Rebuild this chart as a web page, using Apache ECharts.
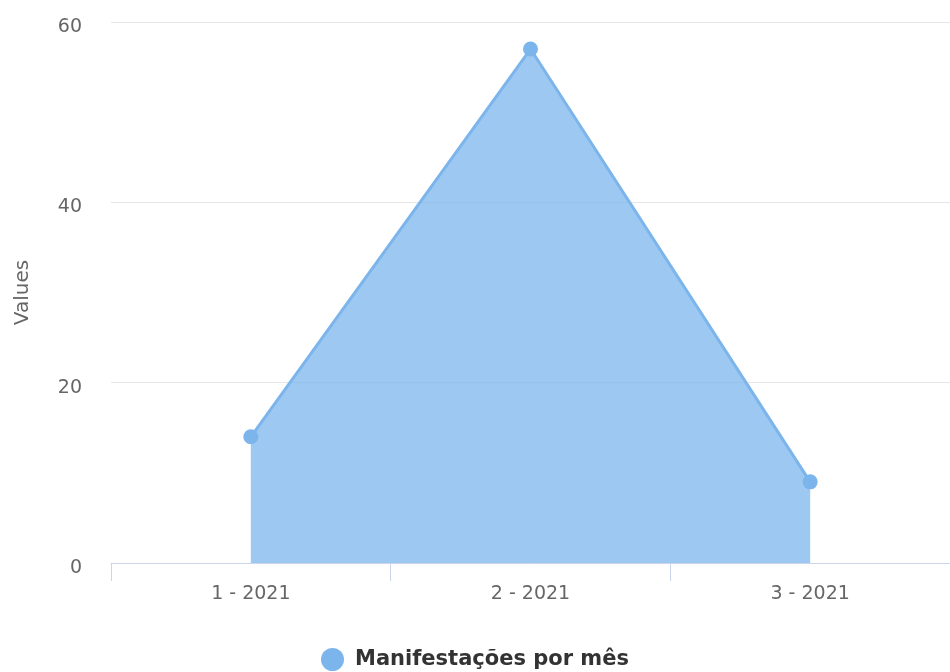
<!DOCTYPE html>
<html><head><meta charset="utf-8">
<script src="https://cdn.jsdelivr.net/npm/echarts@6/dist/echarts.min.js"></script>
<style>html,body{margin:0;padding:0;background:#fff}#c{width:950px;height:672px}</style>
</head><body><div id="c"></div>
<script>
const categories = ['1 - 2021', '2 - 2021', '3 - 2021'];
const seriesName = 'Manifestações por mês';
const values = [14, 57, 9];
const yTicks = [0, 20, 40, 60];

const chart = echarts.init(document.getElementById('c'), null, {renderer: 'canvas'});
chart.setOption({
  animation: false,
  grid: {left: 111, right: 0, top: 22, bottom: 109},
  legend: {
    top: 643, left: 'center', itemWidth: 23, itemHeight: 23, icon: 'circle', itemGap: 10,
    textStyle: {fontFamily: 'DejaVu Sans', fontWeight: 'bold', fontSize: 21, color: '#333', padding: [0, 0, 0, 6]},
    data: [seriesName]
  },
  xAxis: {
    type: 'category', data: categories, boundaryGap: true,
    axisLine: {lineStyle: {color: '#ccd6eb'}},
    axisTick: {show: true, length: 18, lineStyle: {color: '#ccd6eb'}},
    axisLabel: {fontFamily: 'DejaVu Sans', fontSize: 19, color: '#666', margin: 22}
  },
  yAxis: {
    type: 'value', min: yTicks[0], max: yTicks[yTicks.length - 1], interval: 20,
    name: 'Values', nameLocation: 'middle', nameGap: 78, nameRotate: 90,
    nameTextStyle: {fontFamily: 'DejaVu Sans', fontSize: 20, color: '#666'},
    axisLine: {show: false}, axisTick: {show: false},
    axisLabel: {
      fontFamily: 'DejaVu Sans', fontSize: 19, color: '#666', margin: 29,
      formatter: v => '{a|' + v + '}',
      rich: {a: {fontFamily: 'DejaVu Sans', fontSize: 19, color: '#666', padding: [10, 0, 0, 0]}}
    },
    splitLine: {lineStyle: {color: '#e6e6e6'}}
  },
  series: [{
    name: seriesName, type: 'line', data: values,
    symbol: 'circle', symbolSize: 15,
    itemStyle: {color: '#7cb5ec'},
    lineStyle: {color: '#7cb5ec', width: 3},
    areaStyle: {color: '#7cb5ec', opacity: 0.75}
  }]
});
</script></body></html>
